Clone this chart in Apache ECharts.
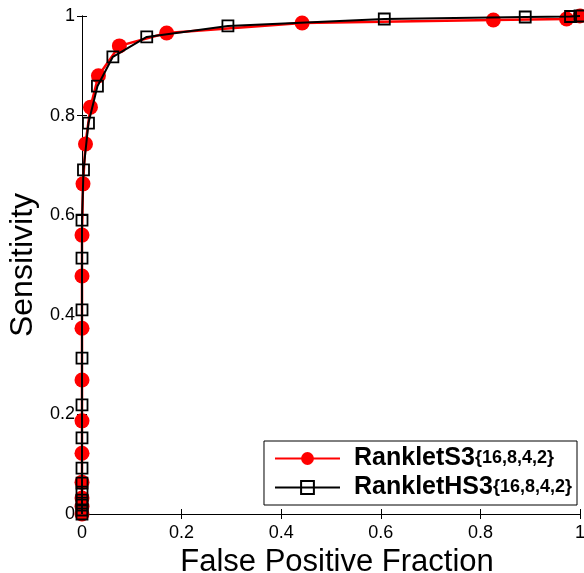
<!DOCTYPE html>
<html>
<head>
<meta charset="utf-8">
<script src="https://cdn.jsdelivr.net/npm/echarts@6/dist/echarts.min.js"></script>
<style>html,body{margin:0;padding:0;background:#fff}#c{width:584px;height:573px}</style>
</head>
<body>
<div id="c"></div>
<script>
// Data
const seriesNames = ['RankletS3', 'RankletHS3'];
const subscript = '{16,8,4,2}';
const xTicks = [0, 0.2, 0.4, 0.6, 0.8, 1];
const yTicks = [0, 0.2, 0.4, 0.6, 0.8, 1];

const s3FPR = [0, 0, 0, 0, 0, 0, 0, 0, 0, 0, 0.002, 0.007, 0.017, 0.033, 0.075, 0.170, 0.442, 0.826, 0.973, 1.0];
const s3TPR = [0, 0.015, 0.032, 0.064, 0.122, 0.187, 0.269, 0.373, 0.478, 0.560, 0.663, 0.743, 0.817, 0.880, 0.940, 0.966, 0.986, 0.992, 0.994, 1.0];

const hs3FPR = [0, 0, 0, 0, 0, 0, 0, 0, 0, 0, 0, 0, 0, 0.003, 0.013, 0.031, 0.062, 0.130, 0.293, 0.607, 0.890, 0.981, 1.0];
const hs3TPR = [0, 0.008, 0.018, 0.028, 0.044, 0.062, 0.092, 0.153, 0.219, 0.313, 0.410, 0.514, 0.590, 0.691, 0.785, 0.859, 0.918, 0.958, 0.980, 0.994, 0.998, 0.999, 1.0];

const zip = (a, b) => a.map((v, i) => [v, b[i]]);

const FONT = '"Liberation Sans", Arial, Helvetica, sans-serif';
const chart = echarts.init(document.getElementById('c'));

const baseAxis = {
  min: 0, max: 1, interval: 0.2,
  axisLine: { show: true, lineStyle: { color: '#000', width: 1 } },
  axisTick: { show: true, inside: true, length: 5, lineStyle: { color: '#000' } },
  splitLine: { show: false }
};

chart.setOption({
  backgroundColor: '#fff',
  animation: false,
  grid: { left: 82, right: 4, top: 16, bottom: 59, containLabel: false, outerBoundsMode: 'none' },
  xAxis: [
    Object.assign({}, baseAxis, {
      type: 'value', position: 'bottom',
      name: 'False Positive Fraction', nameLocation: 'middle', nameGap: 28,
      nameTextStyle: { fontFamily: FONT, fontSize: 31, color: '#000', padding: [0, 0, 0, 12] },
      axisLabel: { fontFamily: FONT, fontSize: 18, color: '#000', margin: 10,
        formatter: v => String(xTicks.find(t => Math.abs(t - v) < 1e-9) ?? v) }
    }),
    Object.assign({}, baseAxis, { type: 'value', position: 'top', axisLabel: { show: false } })
  ],
  yAxis: [
    Object.assign({}, baseAxis, {
      type: 'value', position: 'left',
      name: 'Sensitivity', nameLocation: 'middle', nameGap: 33,
      nameTextStyle: { fontFamily: FONT, fontSize: 32, color: '#000' },
      axisLabel: { fontFamily: FONT, fontSize: 18, color: '#000', margin: 7, padding: [4, 0, 0, 0],
        formatter: v => String(yTicks.find(t => Math.abs(t - v) < 1e-9) ?? v) }
    }),
    Object.assign({}, baseAxis, { type: 'value', position: 'right', axisLabel: { show: false } })
  ],
  legend: {
    orient: 'vertical', right: 7, bottom: 68,
    backgroundColor: '#fff', borderColor: '#000', borderWidth: 1, borderRadius: 0,
    padding: [5, 5, 5, 10], itemGap: 4, itemWidth: 65, itemHeight: 16,
    data: seriesNames,
    formatter: name => '{m|' + name + '}' + subscript,
    textStyle: {
      fontFamily: FONT, fontSize: 18, fontWeight: 'bold', color: '#000', lineHeight: 24,
      rich: { m: { fontFamily: FONT, fontSize: 25, fontWeight: 'bold', color: '#000', lineHeight: 24, padding: [0, 0, 0, 9] } }
    }
  },
  series: [
    {
      name: seriesNames[0], type: 'line', xAxisIndex: 0, yAxisIndex: 0, z: 2,
      data: zip(s3FPR, s3TPR),
      symbol: 'circle', symbolSize: 15,
      itemStyle: { color: '#ff0000' },
      lineStyle: { color: '#ff0000', width: 2.5 }
    },
    {
      name: seriesNames[1], type: 'line', xAxisIndex: 0, yAxisIndex: 0, z: 3,
      data: zip(hs3FPR, hs3TPR),
      symbol: 'rect', symbolSize: 11,
      itemStyle: { color: 'rgba(0,0,0,0)', borderColor: '#000', borderWidth: 1.8 },
      lineStyle: { color: '#000', width: 2 }
    }
  ]
});
</script>
</body>
</html>
